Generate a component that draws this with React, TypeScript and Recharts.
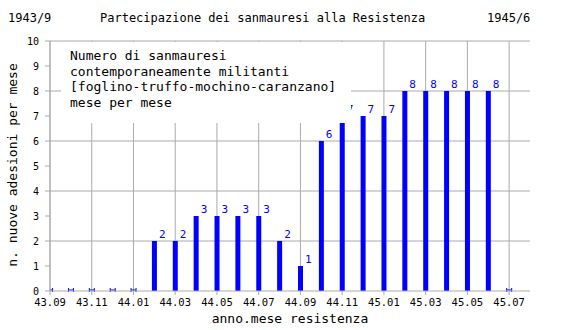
import React from 'react'
import {
  BarChart,
  Bar,
  XAxis,
  YAxis,
  CartesianGrid,
  LabelList,
} from 'recharts'

// mesi 1943/9 - 1945/7
const mesi = [
  '43.09', '43.10', '43.11', '43.12', '44.01', '44.02', '44.03', '44.04',
  '44.05', '44.06', '44.07', '44.08', '44.09', '44.10', '44.11', '44.12',
  '45.01', '45.02', '45.03', '45.04', '45.05', '45.06', '45.07',
]
const militanti = [0, 0, 0, 0, 0, 2, 2, 3, 3, 3, 3, 2, 1, 6, 7, 7, 7, 8, 8, 8, 8, 8, 0]
const yTicks = [0, 1, 2, 3, 4, 5, 6, 7, 8, 9, 10]
const yGrid = [2, 4, 6, 8, 10]
const xTicks = [0, 2, 4, 6, 8, 10, 12, 14, 16, 18, 20, 22]

const titolo = 'Partecipazione dei sanmauresi alla Resistenza'
const inizio = '1943/9'
const fine = '1945/6'
const legenda = [
  'Numero di sanmauresi',
  'contemporaneamente militanti',
  '[foglino-truffo-mochino-caranzano]',
  'mese per mese',
]

const data = mesi.map((m, i) => ({ i, mese: m, n: militanti[i] }))

const MONO = '"DejaVu Sans Mono", monospace'
const BLU = '#0000ff'
const GRIGIO = '#aaaaaa'

const BarShape = (props: any) => {
  const { x, y, width, height, value } = props
  const v = Array.isArray(value) ? value[1] - value[0] : value
  if (!v) {
    const cx = x + width / 2
    return (
      <g stroke={BLU} strokeWidth={1}>
        <line x1={cx - 2.5} x2={cx + 2.5} y1={y - 1} y2={y - 1} />
        <line x1={cx - 2.5} x2={cx - 2.5} y1={y - 3} y2={y + 1} />
        <line x1={cx + 2.5} x2={cx + 2.5} y1={y - 3} y2={y + 1} />
      </g>
    )
  }
  return <rect x={x} y={y} width={width} height={height} fill={BLU} />
}

const Etichetta = (props: any) => {
  const { x, y, width, value } = props
  if (!value) return null
  return (
    <text x={x + width + 2} y={y - 3} fill={BLU} fontSize={11} fontFamily={MONO}>
      {value}
    </text>
  )
}

const txt: React.CSSProperties = {
  position: 'absolute',
  fontFamily: MONO,
  fontSize: 12,
  whiteSpace: 'pre',
  lineHeight: 1,
  color: '#000',
}

export default function App() {
  return (
    <div style={{ position: 'absolute', left: 0, top: 0, width: 570, height: 330, background: '#fff' }}>
      <BarChart
        width={570}
        height={330}
        data={data}
        margin={{ top: 41, right: 40, bottom: 19, left: 10 }}
      >
        <CartesianGrid
          stroke={GRIGIO}
          horizontalValues={yGrid}
          verticalValues={xTicks}
        />
        <XAxis
          dataKey="i"
          type="number"
          domain={[0, 23]}
          ticks={xTicks}
          tickFormatter={(v: number) => mesi[v] ?? ''}
          height={20}
          stroke={GRIGIO}
          tickSize={4}
          tickMargin={4}
          tick={{ fill: '#000', fontSize: 10.5, fontFamily: MONO }}
          allowDataOverflow
        />
        <YAxis
          domain={[0, 10]}
          ticks={yTicks}
          width={40}
          stroke={GRIGIO}
          tickSize={5}
          tickMargin={6}
          interval={0}
          tick={{ fill: '#000', fontSize: 10, fontFamily: MONO }}
        />
        <Bar dataKey="n" barSize={5} fill={BLU} shape={BarShape} isAnimationActive={false}>
          <LabelList dataKey="n" content={Etichetta} />
        </Bar>
      </BarChart>

      <div style={{ ...txt, left: 8, top: 12 }}>{inizio}</div>
      <div style={{ ...txt, left: 100, top: 12 }}>{titolo}</div>
      <div style={{ ...txt, left: 487, top: 12 }}>{fine}</div>

      <div
        style={{
          position: 'absolute',
          left: 61,
          top: 42,
          width: 290,
          height: 81,
          background: '#fff',
          fontFamily: MONO,
          fontSize: 13,
          lineHeight: '15.5px',
          paddingLeft: 9,
          paddingTop: 6,
          boxSizing: 'border-box',
          whiteSpace: 'pre',
        }}
      >
        {legenda.map((r) => (
          <div key={r}>{r}</div>
        ))}
      </div>

      <div style={{ ...txt, fontSize: 13, left: 0, width: 580, textAlign: 'center', top: 312 }}>
        anno.mese resistenza
      </div>
      <div
        style={{
          ...txt,
          fontSize: 13,
          left: 12,
          top: 165,
          transform: 'translate(-50%, -50%) rotate(-90deg)',
        }}
      >
        n. nuove adesioni per mese
      </div>
    </div>
  )
}
